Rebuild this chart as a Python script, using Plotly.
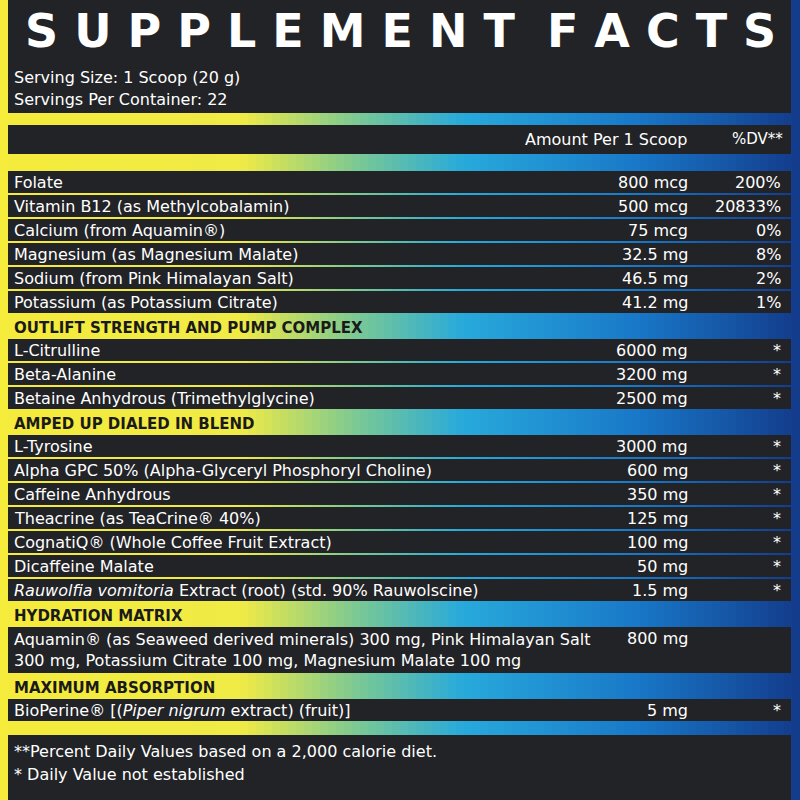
import plotly.graph_objects as go

title = "SUPPLEMENT FACTS"
serving = ["Serving Size: 1 Scoop (20 g)", "Servings Per Container: 22"]
col_headers = ["Amount Per 1 Scoop", "%DV**"]
# (kind, label, amount, dv)
rows = [
    ("r", "Folate", "800 mcg", "200%"),
    ("r", "Vitamin B12 (as Methylcobalamin)", "500 mcg", "20833%"),
    ("r", "Calcium (from Aquamin®)", "75 mcg", "0%"),
    ("r", "Magnesium (as Magnesium Malate)", "32.5 mg", "8%"),
    ("r", "Sodium (from Pink Himalayan Salt)", "46.5 mg", "2%"),
    ("r", "Potassium (as Potassium Citrate)", "41.2 mg", "1%"),
    ("h", "OUTLIFT STRENGTH AND PUMP COMPLEX", "", ""),
    ("r", "L-Citrulline", "6000 mg", "*"),
    ("r", "Beta-Alanine", "3200 mg", "*"),
    ("r", "Betaine Anhydrous (Trimethylglycine)", "2500 mg", "*"),
    ("h", "AMPED UP DIALED IN BLEND", "", ""),
    ("r", "L-Tyrosine", "3000 mg", "*"),
    ("r", "Alpha GPC 50% (Alpha-Glyceryl Phosphoryl Choline)", "600 mg", "*"),
    ("r", "Caffeine Anhydrous", "350 mg", "*"),
    ("r", "Theacrine (as TeaCrine® 40%)", "125 mg", "*"),
    ("r", "CognatiQ® (Whole Coffee Fruit Extract)", "100 mg", "*"),
    ("r", "Dicaffeine Malate", "50 mg", "*"),
    ("r", "<i>Rauwolfia vomitoria</i> Extract (root) (std. 90% Rauwolscine)", "1.5 mg", "*"),
    ("h", "HYDRATION MATRIX", "", ""),
    ("r2", "Aquamin® (as Seaweed derived minerals) 300 mg, Pink Himalayan Salt<br>300 mg, Potassium Citrate 100 mg, Magnesium Malate 100 mg", "800 mg", ""),
    ("h", "MAXIMUM ABSORPTION", "", ""),
    ("r", "BioPerine® [(<i>Piper nigrum</i> extract) (fruit)]", "5 mg", "*"),
]
footer = ["**Percent Daily Values based on a 2,000 calorie diet.", "* Daily Value not established"]

FONT = "DejaVu Sans, sans-serif"
DARK = "#222326"
FS = 16

def grad(t):
    stops = [(0, (245, 236, 60)), (0.3, (240, 235, 70)), (0.45, (120, 200, 150)),
             (0.58, (40, 170, 220)), (0.8, (25, 120, 200)), (1, (20, 60, 140))]
    for (a, ca), (b, cb) in zip(stops, stops[1:]):
        if a <= t <= b:
            f = (t - a) / (b - a)
            return "rgb(%d,%d,%d)" % tuple(int(ca[i] + (cb[i] - ca[i]) * f) for i in range(3))
    return "rgb(20,60,140)"

shapes, ann = [], []
N = 100
for i in range(N):
    shapes.append(dict(type="rect", x0=i * 8, x1=(i + 1) * 8 + 0.5, y0=0, y1=800,
                       fillcolor=grad(i / (N - 1)), line_width=0, layer="below"))

def panel(y0, y1, x0=8, x1=791):
    shapes.append(dict(type="rect", x0=x0, x1=x1, y0=y0, y1=y1, fillcolor=DARK, line_width=0, layer="below"))

def txt(x, y, s, size=FS, anchor="left", color="white", bold=False):
    ann.append(dict(x=x, y=y, text=("<b>%s</b>" % s) if bold else s, showarrow=False, xanchor=anchor,
                    yanchor="middle", font=dict(family=FONT, size=size, color=color), align="left"))

# top block
panel(0, 113)
ann.append(dict(x=400, y=31, text="<b>S U P P L E M E N T  F A C T S</b>", showarrow=False,
                xanchor="center", yanchor="middle",
                font=dict(family="DejaVu Sans, sans-serif", size=46, color="white")))
txt(12, 77, serving[0])
txt(12, 99, serving[1])
panel(125, 154)
txt(690, 139, col_headers[0], FS, "right")
txt(785, 139, col_headers[1], FS - 1, "right")

y = 171
RH = 24
for kind, label, amt, dv in rows:
    h = RH * 2 if kind == "r2" else RH
    if kind == "h":
        txt(12, y + h / 2 + 1, label, FS - 1, color="#1a1a1a", bold=True)
    else:
        panel(y, y + h - 2)
        if kind == "r2":
            txt(12, y + h / 2 - 1, label)
            txt(690, y + 11, amt, FS, "right")
        else:
            txt(12, y + h / 2 - 1, label)
            txt(690, y + h / 2 - 1, amt, FS, "right")
            txt(783, y + h / 2 - 1, dv, FS, "right")
    y += h
panel(y + 12, 800)
txt(12, y + 28, footer[0])
txt(12, y + 51, footer[1])

fig = go.Figure()
fig.update_layout(width=800, height=800, margin=dict(l=0, r=0, t=0, b=0),
                  paper_bgcolor=DARK, plot_bgcolor=DARK, shapes=shapes, annotations=ann,
                  xaxis=dict(range=[0, 800], visible=False, fixedrange=True),
                  yaxis=dict(range=[800, 0], visible=False, fixedrange=True), showlegend=False)
fig.write_html("out.html", config=dict(displayModeBar=False),
               post_script="document.body.style.margin='0';document.body.style.overflow='hidden';")
